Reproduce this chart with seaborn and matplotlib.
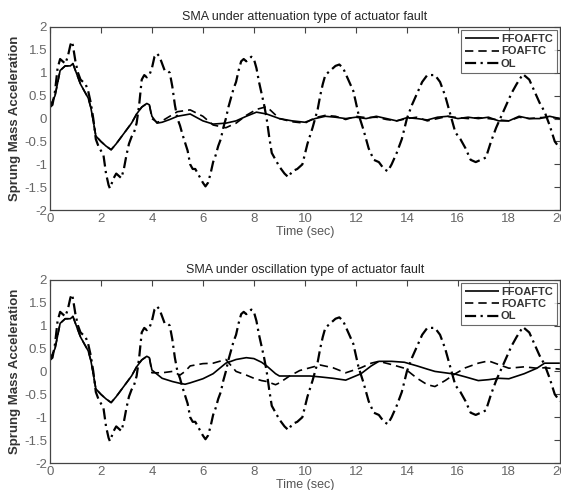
import numpy as np
import pandas as pd
import matplotlib
matplotlib.use("Agg")
import matplotlib.pyplot as plt
import seaborn as sns

# Open loop response (same in both subplots)
ol_t = [0, 0.1, 0.2, 0.3, 0.4, 0.5, 0.6, 0.7, 0.8, 0.85, 0.9, 1.0, 1.1, 1.2, 1.3, 1.4, 1.5,
        1.6, 1.7, 1.8, 1.9, 2.0, 2.1, 2.2, 2.3, 2.35, 2.4, 2.5, 2.6, 2.7, 2.8, 2.9, 3.0,
        3.1, 3.2, 3.3, 3.4, 3.5, 3.6, 3.7, 3.8, 3.9, 4.0, 4.1, 4.2, 4.3, 4.4, 4.5, 4.6,
        4.7, 4.8, 4.9, 5.0, 5.1, 5.2, 5.4, 5.5, 5.6, 5.7, 5.8, 5.9, 6.0, 6.1, 6.2, 6.3,
        6.4, 6.5, 6.6, 6.7, 6.8, 6.9, 7.0, 7.1, 7.2, 7.3, 7.4, 7.5, 7.6, 7.7, 7.8, 7.9,
        8.0, 8.1, 8.2, 8.3, 8.4, 8.5, 8.6, 8.7, 8.8, 8.9, 9.0, 9.2, 9.35, 9.5, 9.7, 9.9,
        10.1, 10.3, 10.5, 10.6, 10.7, 10.8, 11.0, 11.2, 11.35, 11.5, 11.7, 11.9, 12.0,
        12.1, 12.3, 12.5, 12.7, 12.9, 13.1, 13.25, 13.4, 13.6, 13.8, 14.0, 14.2, 14.4,
        14.6, 14.8, 15.1, 15.3, 15.5, 15.7, 15.9, 16.1, 16.3, 16.5, 16.7, 16.9, 17.1,
        17.3, 17.5, 17.7, 17.9, 18.1, 18.3, 18.55, 18.8, 19.0, 19.2, 19.4, 19.6, 19.8, 20.0]
ol_y = [0.25, 0.3, 0.6, 1.1, 1.3, 1.25, 1.2, 1.35, 1.6, 1.68, 1.6, 1.25, 1.0, 0.85, 0.8, 0.75, 0.6,
        0.35, 0.0, -0.45, -0.6, -0.7, -0.8, -1.2, -1.45, -1.52, -1.45, -1.3, -1.2, -1.25, -1.3, -1.1, -0.8,
        -0.55, -0.4, -0.3, -0.1, 0.3, 0.85, 0.95, 0.9, 0.95, 1.1, 1.35, 1.42, 1.35, 1.2, 1.05, 1.05,
        1.0, 0.7, 0.3, 0.0, -0.15, -0.35, -0.7, -1.0, -1.1, -1.1, -1.2, -1.3, -1.4, -1.48, -1.4, -1.2,
        -0.95, -0.8, -0.6, -0.45, -0.2, 0.0, 0.25, 0.45, 0.65, 0.8, 1.05, 1.25, 1.3, 1.25, 1.3, 1.35,
        1.3, 1.1, 0.8, 0.55, 0.3, 0.0, -0.4, -0.75, -0.85, -0.95, -1.05, -1.2, -1.28, -1.15, -1.1, -1.0,
        -0.55, -0.2, 0.2, 0.5, 0.75, 0.95, 1.05, 1.15, 1.18, 1.1, 0.85, 0.6, 0.35,
        0.1, -0.25, -0.65, -0.9, -0.95, -1.1, -1.15, -1.0, -0.75, -0.45, 0.0, 0.3, 0.55,
        0.8, 0.95, 0.95, 0.8, 0.5, 0.1, -0.3, -0.45, -0.65, -0.9, -0.95, -0.9, -0.85,
        -0.5, -0.2, 0.05, 0.3, 0.55, 0.75, 0.97, 0.85, 0.6, 0.35, 0.15, -0.15, -0.5, -0.65]

# Common start of the controlled responses (0 - 4 s)
start_t = [0, 0.2, 0.4, 0.6, 0.8, 0.9, 1.0, 1.2, 1.4, 1.5, 1.6, 1.7, 1.8, 2.0, 2.2, 2.4, 2.6,
           2.8, 3.0, 3.2, 3.4, 3.6, 3.8, 3.9]
start_y = [0.25, 0.5, 1.05, 1.15, 1.15, 1.2, 1.05, 0.75, 0.55, 0.45, 0.25, -0.05, -0.38, -0.5, -0.6, -0.68, -0.55,
           -0.4, -0.25, -0.1, 0.1, 0.25, 0.33, 0.3]

# Attenuation fault, after 4 s
att_t = [4.0, 4.2, 4.4, 4.7, 5.0, 5.5, 6.0, 6.4, 6.9, 7.3, 7.7, 8.1, 8.5, 9.0, 9.5, 10.0,
         10.4, 10.8, 11.2, 11.6, 12.0, 12.4, 12.8, 13.2, 13.6, 14.0, 14.4, 14.8, 15.2,
         15.6, 16.0, 16.4, 16.8, 17.2, 17.6, 18.0, 18.4, 18.8, 19.2, 19.6, 20.0]
att_ffo = [0.05, -0.1, -0.08, -0.02, 0.05, 0.1, -0.05, -0.12, -0.1, -0.05, 0.05, 0.14, 0.1, 0.0, -0.05, -0.08,
           0.0, 0.05, 0.03, 0.0, 0.03, 0.0, 0.05, 0.0, -0.05, 0.02, 0.0, -0.03, 0.03,
           0.05, 0.0, 0.03, 0.0, 0.03, -0.05, -0.05, 0.05, 0.0, 0.0, 0.05, 0.0]
att_fo = [0.0, -0.08, -0.05, 0.05, 0.15, 0.19, 0.05, -0.14, -0.2, -0.1, 0.07, 0.2, 0.26, 0.0, -0.07, -0.1,
          0.02, 0.07, 0.05, -0.02, 0.05, 0.02, 0.03, -0.02, -0.05, 0.0, 0.03, -0.05, 0.0,
          0.05, 0.02, 0.0, 0.02, 0.0, -0.03, -0.05, 0.03, 0.0, 0.02, 0.03, 0.0]

# Oscillation fault, after 4 s
osc_t = [4.0, 4.4, 4.8, 5.1, 5.3, 5.5, 6.0, 6.4, 6.9, 7.3, 7.7, 8.0, 8.3, 8.5, 8.85, 9.0,
         9.4, 9.8, 10.2, 10.6, 11.1, 11.6, 12.2, 12.6, 12.9, 13.4, 13.9, 14.4, 14.8, 15.1,
         15.5, 15.9, 16.3, 16.8, 17.2, 17.6, 18.0, 18.6, 19.1, 19.4, 20.0]
osc_ffo = [0.03, -0.15, -0.22, -0.26, -0.28, -0.25, -0.16, -0.05, 0.18, 0.26, 0.3, 0.28, 0.2, 0.12, -0.05, -0.1,
           -0.1, -0.1, -0.1, -0.12, -0.15, -0.19, -0.05, 0.12, 0.22, 0.22, 0.2, 0.12, 0.05, 0.0,
           -0.03, -0.06, -0.12, -0.2, -0.18, -0.15, -0.16, -0.05, 0.07, 0.18, 0.18]
osc_fo = [-0.03, -0.03, 0.0, -0.08, 0.0, 0.12, 0.17, 0.18, 0.26, 0.0, -0.08, -0.15, -0.2, -0.22, -0.29, -0.25,
          -0.1, 0.02, 0.08, 0.14, 0.08, -0.03, 0.08, 0.18, 0.22, 0.15, 0.07, -0.15, -0.29, -0.33,
          -0.2, -0.05, 0.08, 0.18, 0.23, 0.15, 0.07, 0.1, 0.07, 0.08, 0.05]

panel_titles = ["SMA under attenuation type of actuator fault",
                "SMA under oscillation type of actuator fault"]
series_names = ["FFOAFTC", "FOAFTC", "OL"]


def build_frame(ffo_tail, fo_tail, tail_t):
    rows = []
    for t, y in zip(start_t + tail_t, start_y + ffo_tail):
        rows.append({"t": t, "y": y, "series": "FFOAFTC"})
    for t, y in zip(start_t + tail_t, start_y + fo_tail):
        rows.append({"t": t, "y": y, "series": "FOAFTC"})
    for t, y in zip(ol_t, ol_y):
        rows.append({"t": t, "y": y, "series": "OL"})
    return pd.DataFrame(rows)


frames = [build_frame(att_ffo, att_fo, att_t), build_frame(osc_ffo, osc_fo, osc_t)]

sns.set_style("white")
plt.rcParams["font.family"] = ["Liberation Sans", "DejaVu Sans"]

fig = plt.figure(figsize=(5.61, 4.90), dpi=100)
ax_pos = [[0.089, 0.571, 0.909, 0.374], [0.089, 0.055, 0.909, 0.374]]

styles = {"FFOAFTC": (0, ()), "FOAFTC": (0, (5, 3)), "OL": (0, (5, 2, 1, 2))}

for pos, df, title in zip(ax_pos, frames, panel_titles):
    ax = fig.add_axes(pos)
    for name in series_names:
        sub = df[df["series"] == name]
        lw = 1.6 if name == "OL" else 1.2
        sns.lineplot(data=sub, x="t", y="y", ax=ax, color="black", lw=lw,
                     linestyle=styles[name], label=name, estimator=None, sort=True)
    ax.set_xlim(0, 20)
    ax.set_ylim(-2, 2)
    ax.set_xticks(np.arange(0, 21, 2))
    ax.set_yticks(np.arange(-2, 2.01, 0.5))
    ax.set_yticklabels(["-2", "-1.5", "-1", "-0.5", "0", "0.5", "1", "1.5", "2"])
    ax.tick_params(direction="in", top=True, right=True, length=4, width=0.8,
                   labelsize=9.5, labelcolor="#666666", color="#444444", pad=2)
    for sp in ax.spines.values():
        sp.set_color("#444444")
        sp.set_linewidth(0.9)
    ax.set_title(title, fontsize=9, pad=5)
    ax.set_xlabel("Time (sec)", fontsize=9, color="#555555", labelpad=1)
    ax.set_ylabel("Sprung Mass Acceleration", fontsize=9.5, fontweight="bold",
                  color="#333333", labelpad=2)
    leg = ax.legend(loc="upper right", fontsize=8, frameon=True, fancybox=False,
                    borderpad=0.35, labelspacing=0.2, handlelength=3.0, handletextpad=0.2,
                    borderaxespad=0.3)
    leg.get_frame().set_edgecolor("#444444")
    leg.get_frame().set_linewidth(0.8)
    for txt in leg.get_texts():
        txt.set_fontweight("bold")
        txt.set_color("#333333")

fig.savefig("out.png", dpi=100)
